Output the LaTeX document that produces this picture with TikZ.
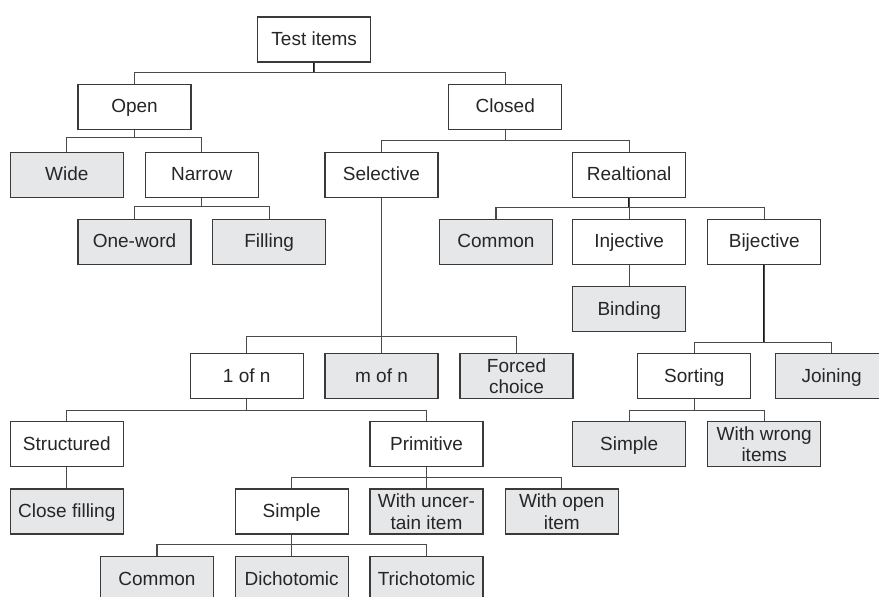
\documentclass[tikz,border=0pt]{standalone}
\usepackage{fontspec}
\setmainfont{Liberation Sans}
\definecolor{boxgray}{HTML}{E6E7E8}
\definecolor{edge}{HTML}{3A3A3A}
\definecolor{linegray}{HTML}{4A4A4A}
\begin{document}
\begin{tikzpicture}[x=1pt,y=-1pt,
  box/.style={draw=edge,line width=1.2pt,minimum width=113pt,minimum height=45pt,inner sep=0pt,align=center,font=\fontsize{19}{21.5}\selectfont,text=black!85},
  one/.style={text height=14.6pt,text depth=2.6pt},
  wbox/.style={box,fill=white},
  gbox/.style={box,fill=boxgray},
  conn/.style={draw=linegray,line width=1.1pt},
  stem/.style={draw=black!90,line width=1.5pt}]
\useasboundingbox (0,0) rectangle (879,597);
\clip (0,0) rectangle (879,597);
\fill[white] (0,0) rectangle (879,597);

\node[wbox,one] (test) at (314.2,39.5) {Test items};
\node[wbox,one] (open) at (134.5,106.8) {Open};
\node[wbox,one] (closed) at (505.3,106.8) {Closed};
\node[gbox,one] (wide) at (66.8,174.6) {Wide};
\node[wbox,one] (narrow) at (201.7,174.6) {Narrow};
\node[wbox,one] (selective) at (381.5,174.6) {Selective};
\node[wbox,one] (realt) at (629.2,174.6) {Realtional};
\node[gbox,one] (oneword) at (134.5,241.8) {One-word};
\node[gbox,one] (filling) at (269.2,241.8) {Filling};
\node[gbox,one] (common1) at (496,241.8) {Common};
\node[wbox,one] (injective) at (629.2,241.8) {Injective};
\node[wbox,one] (bijective) at (764.2,241.8) {Bijective};
\node[gbox,one] (binding) at (629.2,309.2) {Binding};
\node[wbox,one] (oneofn) at (246.7,376.3) {1 of n};
\node[gbox,one] (mofn) at (381.5,376.3) {m of n};
\node[gbox] (forced) at (516.5,376.3) {Forced\\choice};
\node[wbox,one] (sorting) at (694.3,376.3) {Sorting};
\node[gbox,one] (joining) at (831.7,376.3) {Joining};
\node[wbox,one] (structured) at (66.8,444.2) {Structured};
\node[wbox,one] (primitive) at (426.5,444.2) {Primitive};
\node[gbox,one] (simpleB) at (629.2,444.2) {Simple};
\node[gbox] (wrong) at (764.2,444.2) {With wrong\\items};
\node[gbox,one] (closefill) at (66.8,511.5) {Close filling};
\node[wbox,one] (simple) at (291.7,511.5) {Simple};
\node[gbox] (uncertain) at (426.5,511.5) {With uncer-\\tain item};
\node[gbox] (openitem) at (561.8,511.5) {With open\\item};
\node[gbox,one] (common2) at (157,579) {Common};
\node[gbox,one] (dicho) at (291.7,579) {Dichotomic};
\node[gbox,one] (tricho) at (426.5,579) {Trichotomic};

% Test items
\draw[stem] (test.south) -- ([yshift=11.3pt]open.north -| test.south);
\foreach \c in {open,closed} \draw[conn] (\c.north) -- ++(0,-11.3) -| (test.south);
% Open
\draw[stem] (open.south) -- ([yshift=14pt]wide.north -| open.south);
\foreach \c in {wide,narrow} \draw[conn] (\c.north) -- ++(0,-14) -| (open.south);
% Closed
\draw[stem] (closed.south) -- ([yshift=11.4pt]selective.north -| closed.south);
\foreach \c in {selective,realt} \draw[conn] (\c.north) -- ++(0,-11.4) -| (closed.south);
% Narrow
\draw[stem] (narrow.south) -- ([yshift=12.6pt]oneword.north -| narrow.south);
\foreach \c in {oneword,filling} \draw[conn] (\c.north) -- ++(0,-12.6) -| (narrow.south);
% Realtional
\draw[stem] (realt.south) -- ([yshift=11pt]common1.north -| realt.south);
\foreach \c in {common1,injective,bijective} \draw[conn] (\c.north) -- ++(0,-11) -| (realt.south);
% Injective
\draw[conn] (injective.south) -- (binding.north);
% Selective
\draw[stem] (selective.south) -- ([yshift=16.4pt]oneofn.north -| selective.south);
\foreach \c in {oneofn,mofn,forced} \draw[conn] (\c.north) -- ++(0,-16.4) -| (selective.south);
% Bijective
\draw[stem] (bijective.south) -- ([yshift=10.4pt]sorting.north -| bijective.south);
\foreach \c in {sorting,joining} \draw[conn] (\c.north) -- ++(0,-10.4) -| (bijective.south);
% 1 of n
\draw[stem] (oneofn.south) -- ([yshift=11pt]structured.north -| oneofn.south);
\foreach \c in {structured,primitive} \draw[conn] (\c.north) -- ++(0,-11) -| (oneofn.south);
% Sorting
\draw[stem] (sorting.south) -- ([yshift=10.7pt]simpleB.north -| sorting.south);
\foreach \c in {simpleB,wrong} \draw[conn] (\c.north) -- ++(0,-10.7) -| (sorting.south);
% Structured
\draw[conn] (structured.south) -- (closefill.north);
% Primitive
\draw[stem] (primitive.south) -- ([yshift=11.3pt]simple.north -| primitive.south);
\foreach \c in {simple,uncertain,openitem} \draw[conn] (\c.north) -- ++(0,-11.3) -| (primitive.south);
% Simple
\draw[stem] (simple.south) -- ([yshift=11.5pt]common2.north -| simple.south);
\foreach \c in {common2,dicho,tricho} \draw[conn] (\c.north) -- ++(0,-11.5) -| (simple.south);
\end{tikzpicture}
\end{document}
